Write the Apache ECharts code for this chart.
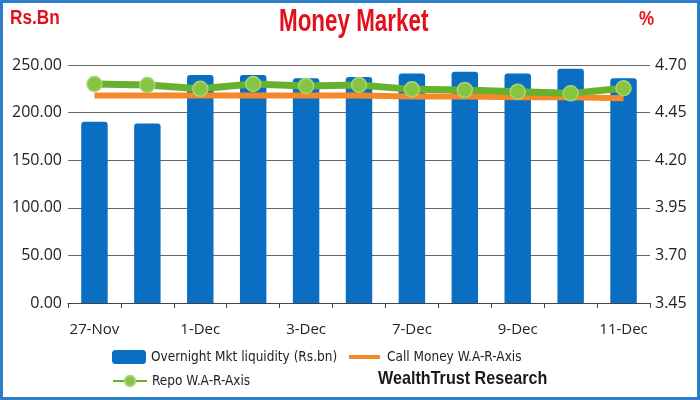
<!DOCTYPE html>
<html><head><meta charset="utf-8">
<script src="https://cdn.jsdelivr.net/npm/echarts@6/dist/echarts.min.js"></script>
<style>html,body{margin:0;padding:0;background:#fff}#c{width:700px;height:400px}</style>
</head><body><div id="c"></div>
<script>
const categories = ['27-Nov','30-Nov','1-Dec','2-Dec','3-Dec','4-Dec','7-Dec','8-Dec','9-Dec','10-Dec','11-Dec'];
const liquidity = [190.5, 188.5, 239.5, 239.5, 236, 237.5, 241, 243, 241, 246, 236];
const callMoney = [4.54, 4.54, 4.54, 4.54, 4.54, 4.54, 4.535, 4.535, 4.53, 4.53, 4.525];
const repo = [4.60, 4.595, 4.575, 4.60, 4.59, 4.595, 4.572, 4.569, 4.56, 4.551, 4.578];
const leftTicks = {min: 0, max: 250, interval: 50};
const rightTicks = {min: 3.45, max: 4.70, interval: 0.25};

const narrow = '"DejaVu Sans Condensed","Liberation Sans Narrow",sans-serif';
const red = '#e2101d';
const chart = echarts.init(document.getElementById('c'), null, {renderer: 'canvas'});
chart.setOption({
  animation: false,
  backgroundColor: '#fff',
  graphic: [
    {type: 'rect', silent: true, shape: {x: 1.5, y: 1.5, width: 697, height: 397}, style: {fill: 'none', stroke: '#2c7fc6', lineWidth: 3}},
    {type: 'text', x: 279, y: 6, scaleX: 0.7, style: {text: 'Money Market', fill: red, font: 'bold 32px "Liberation Sans", Arial, sans-serif', textAlign: 'left', textVerticalAlign: 'top'}},
    {type: 'text', x: 10, y: 8, scaleX: 0.86, style: {text: 'Rs.Bn', fill: red, font: 'bold 20px "Liberation Sans", Arial, sans-serif', textAlign: 'left', textVerticalAlign: 'top'}},
    {type: 'text', x: 639, y: 9, scaleX: 0.85, style: {text: '%', fill: red, font: 'bold 20px "Liberation Sans", Arial, sans-serif', textAlign: 'left', textVerticalAlign: 'top'}},
    {type: 'text', x: 378, y: 369, scaleX: 0.85, style: {text: 'WealthTrust Research', fill: '#1a1a1a', font: 'bold 19px "Liberation Sans", Arial, sans-serif', textAlign: 'left', textVerticalAlign: 'top'}}
  ],
  legend: [
    {data: ['Overnight Mkt liquidity (Rs.bn)'], left: 107, top: 345, itemWidth: 34, itemHeight: 14,
     textStyle: {fontFamily: narrow, fontSize: 13.5, color: '#222'}},
    {data: [{name: 'Call Money W.A-R-Axis', icon: 'rect'}], left: 344, top: 345, itemWidth: 31, itemHeight: 4,
     textStyle: {fontFamily: narrow, fontSize: 13.5, color: '#222', padding: [0, 0, 0, 2]}},
    {data: ['Repo W.A-R-Axis'], left: 107, top: 369, itemWidth: 34, itemHeight: 13,
     textStyle: {fontFamily: narrow, fontSize: 13.5, color: '#222'}}
  ],
  grid: {left: 68, right: 50, top: 65, bottom: 97, containLabel: false},
  xAxis: {
    type: 'category', data: categories, boundaryGap: true,
    axisLine: {lineStyle: {color: '#444', width: 1}},
    axisTick: {show: true, alignWithLabel: false, interval: 0, length: 5, lineStyle: {color: '#444'}},
    axisLabel: {interval: 1, color: '#222', fontFamily: '"Open Sans",sans-serif', fontSize: 15, margin: 19}
  },
  yAxis: [
    {type: 'value', min: leftTicks.min, max: leftTicks.max, interval: leftTicks.interval,
     axisLine: {show: false}, axisTick: {show: false},
     splitLine: {lineStyle: {color: '#666', width: 1}},
     axisLabel: {formatter: v => v.toFixed(2), color: '#222', fontFamily: '"Open Sans",sans-serif', fontSize: 16, margin: 6}},
    {type: 'value', min: rightTicks.min, max: rightTicks.max, interval: rightTicks.interval, position: 'right',
     axisLine: {show: false}, axisTick: {show: false}, splitLine: {show: false},
     axisLabel: {formatter: v => v.toFixed(2), color: '#222', fontFamily: '"Open Sans",sans-serif', fontSize: 16, margin: 5}}
  ],
  series: [
    {name: 'Overnight Mkt liquidity (Rs.bn)', type: 'bar', data: liquidity, barWidth: '50%',
     itemStyle: {color: '#0a6fc2', borderRadius: [3, 3, 0, 0]}},
    {name: 'Call Money W.A-R-Axis', type: 'line', yAxisIndex: 1, data: callMoney, symbol: 'none',
     lineStyle: {color: '#f5892a', width: 6}, itemStyle: {color: '#f5892a'}},
    {name: 'Repo W.A-R-Axis', type: 'line', yAxisIndex: 1, data: repo, symbol: 'circle', symbolSize: 15,
     lineStyle: {color: '#66b22e', width: 7},
     itemStyle: {color: '#86c441', borderColor: '#a7d57a', borderWidth: 1.5}}
  ]
});
</script></body></html>
